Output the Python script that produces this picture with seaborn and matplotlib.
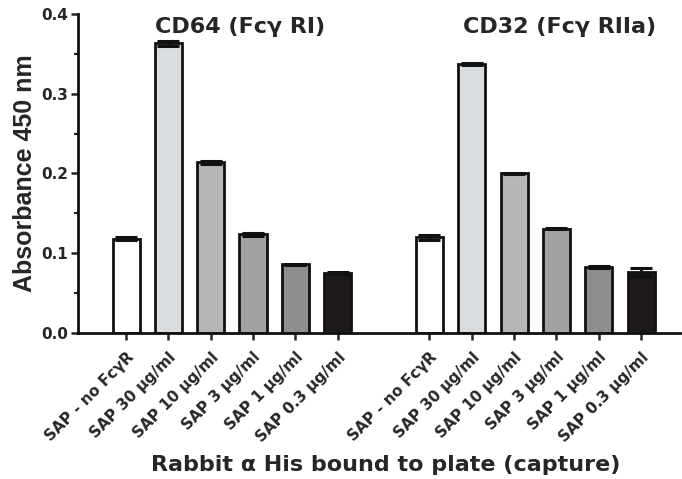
import matplotlib
matplotlib.use("Agg")
import matplotlib.pyplot as plt
import numpy as np
import pandas as pd
import seaborn as sns
from matplotlib.ticker import MultipleLocator, FormatStrFormatter

# Capture ELISA: absorbance at 450 nm for each SAP dilution on two Fc gamma receptors
conditions = ["SAP - no FcγR", "SAP 30 µg/ml", "SAP 10 µg/ml",
              "SAP 3 µg/ml", "SAP 1 µg/ml", "SAP 0.3 µg/ml"]
receptors = ["CD64 (Fcγ RI)", "CD32 (Fcγ RIIa)"]

cd64_absorbance = [0.118, 0.363, 0.214, 0.124, 0.086, 0.075]
cd64_error = [0.002, 0.003, 0.002, 0.002, 0.001, 0.001]
cd32_absorbance = [0.120, 0.337, 0.200, 0.131, 0.083, 0.076]
cd32_error = [0.003, 0.001, 0.001, 0.001, 0.001, 0.005]

bar_colors = ["#ffffff", "#d9dde1", "#b3b6b9", "#a1a2a4", "#8c8e8f", "#1d1919"]
ink = "#262626"

# second receptor block sits after a gap on the same axis
group_offset = 7.17
positions = np.concatenate([np.arange(6), np.arange(6) + group_offset])

df = pd.DataFrame({
    "position": positions,
    "absorbance": cd64_absorbance + cd32_absorbance,
    "error": cd64_error + cd32_error,
    "condition": conditions * 2,
    "receptor": [receptors[0]] * 6 + [receptors[1]] * 6,
})

sns.set_theme(style="ticks")
plt.rcParams["font.family"] = ["DejaVu Sans"]
plt.rcParams["font.weight"] = "bold"
plt.rcParams["text.color"] = ink
plt.rcParams["axes.labelcolor"] = ink
plt.rcParams["xtick.color"] = ink
plt.rcParams["ytick.color"] = ink

fig = plt.figure(figsize=(6.82, 4.79), dpi=100)
ax = fig.add_axes([0.1144, 0.3048, 0.8827, 0.666])

sns.barplot(
    data=df, x="position", y="absorbance", hue="condition",
    hue_order=conditions, palette=dict(zip(conditions, bar_colors)),
    native_scale=True, dodge=False, width=0.64, errorbar=None,
    edgecolor="#111111", linewidth=2.0, legend=False, ax=ax,
)
ax.errorbar(
    df["position"], df["absorbance"], yerr=df["error"], fmt="none",
    ecolor="#111111", elinewidth=2.0, capsize=8, capthick=2.2, zorder=4,
)

ax.set_xlim(-1.135, group_offset + 5 + 0.92)
ax.set_ylim(0, 0.4)
ax.yaxis.set_major_locator(MultipleLocator(0.1))
ax.yaxis.set_minor_locator(MultipleLocator(0.05))
ax.yaxis.set_major_formatter(FormatStrFormatter("%.1f"))

ax.set_xticks(positions)
ax.set_xticklabels(df["condition"], rotation=45, ha="right", va="top",
                   rotation_mode="anchor", fontsize=11, fontweight="bold")
ax.tick_params(axis="y", which="major", labelsize=11)
for lab in ax.get_yticklabels():
    lab.set_fontweight("bold")

for side in ["top", "right"]:
    ax.spines[side].set_visible(False)
for side in ["left", "bottom"]:
    ax.spines[side].set_linewidth(2.0)
    ax.spines[side].set_color("#111111")

ax.tick_params(axis="x", which="major", direction="out", length=5, width=1.8, pad=7)
ax.tick_params(axis="y", which="major", direction="out", length=5, width=1.8, pad=2)
ax.tick_params(axis="y", which="minor", direction="out", length=3, width=1.6)

ax.set_ylabel("Absorbance 450 nm", fontsize=18, fontweight="bold",
              family=["Liberation Sans", "DejaVu Sans"])
ax.yaxis.set_label_coords(-0.068, 0.5)
ax.set_xlabel("Rabbit α His bound to plate (capture)", fontsize=16, fontweight="bold")
ax.xaxis.set_label_coords(0.511, -0.383)

title_x = [2.70, 10.24]
for x, name in zip(title_x, receptors):
    ax.text(x, 0.384, name, ha="center", va="center", fontsize=16,
            fontweight="bold", color=ink)

fig.savefig("out.png", dpi=100)
